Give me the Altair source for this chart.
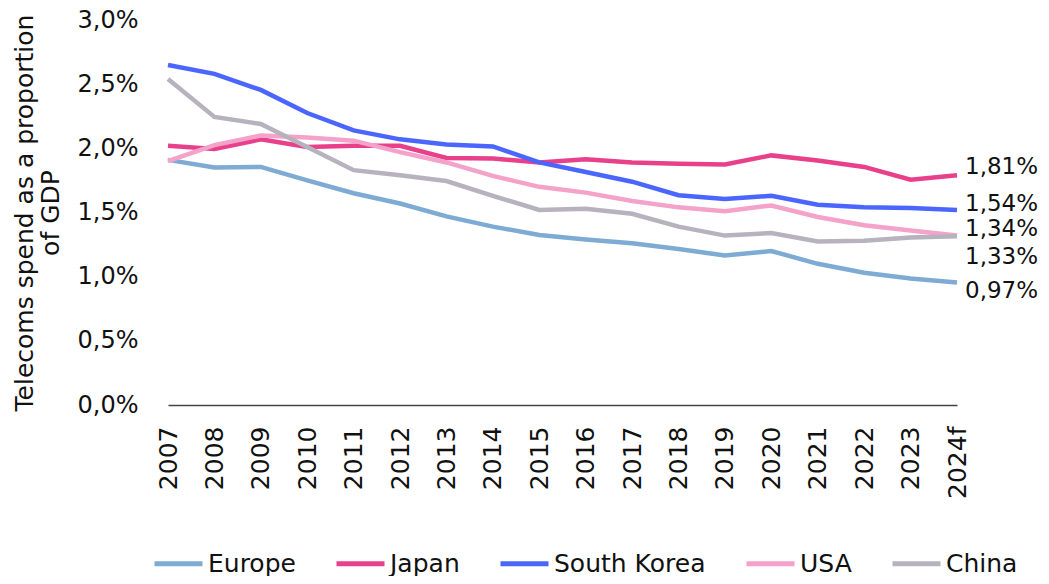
import altair as alt
import pandas as pd

years = ["2007", "2008", "2009", "2010", "2011", "2012", "2013", "2014", "2015",
         "2016", "2017", "2018", "2019", "2020", "2021", "2022", "2023", "2024f"]

europe = [1.91, 1.85, 1.855, 1.75, 1.65, 1.57, 1.47, 1.39, 1.325, 1.29, 1.26, 1.215,
          1.165, 1.20, 1.10, 1.03, 0.985, 0.955]
japan = [2.02, 1.995, 2.07, 2.01, 2.02, 2.02, 1.925, 1.92, 1.89, 1.915, 1.89, 1.88,
         1.875, 1.945, 1.905, 1.855, 1.755, 1.79]
south_korea = [2.65, 2.58, 2.455, 2.275, 2.14, 2.07, 2.03, 2.015, 1.89, 1.815, 1.74, 1.635,
               1.605, 1.63, 1.56, 1.54, 1.535, 1.52]
usa = [1.90, 2.025, 2.10, 2.085, 2.06, 1.97, 1.89, 1.785, 1.70, 1.655, 1.59, 1.54,
       1.51, 1.555, 1.465, 1.40, 1.36, 1.32]
china = [2.54, 2.245, 2.19, 2.01, 1.83, 1.79, 1.745, 1.63, 1.52, 1.53, 1.49, 1.39,
         1.32, 1.34, 1.275, 1.28, 1.305, 1.315]

series_names = ["Europe", "Japan", "South Korea", "USA", "China"]
series_values = [europe, japan, south_korea, usa, china]
colors = ["#7DABD3", "#E8408A", "#4A66FF", "#F4A2C9", "#B6B3BE"]

end_label_series = ["Japan", "South Korea", "USA", "China", "Europe"]
end_label_values = [1.81, 1.54, 1.34, 1.33, 0.97]
end_label_texts = ["1,81%", "1,54%", "1,34%", "1,33%", "0,97%"]
end_label_dy = [-6, -3, -4, 23, 10]

rows = []
for name, vals in zip(series_names, series_values):
    for y, v in zip(years, vals):
        rows.append({"year": y, "series": name, "value": v / 100})
df = pd.DataFrame(rows)

FONT = "DejaVu Sans"
TXT = "#111111"

x_enc = alt.X("year:N", sort=years, scale=alt.Scale(type="point", padding=0),
              axis=alt.Axis(title=None, labelAngle=-90, labelFontSize=25, labelPadding=21,
                            ticks=False, domainColor="#444444", domainWidth=1.3,
                            labelColor=TXT, labelFont=FONT))

lines = alt.Chart(df).mark_line(strokeWidth=4.5).encode(
    x=x_enc,
    y=alt.Y("value:Q", scale=alt.Scale(domain=[0, 0.03], nice=False),
            axis=alt.Axis(title=["Telecoms spend as a proportion", "of GDP"],
                          values=[0, 0.005, 0.01, 0.015, 0.02, 0.025, 0.03],
                          labelExpr="replace(format(datum.value, '.1%'), '.', ',')",
                          labelFontSize=24, labelPadding=30, ticks=False, domain=False,
                          grid=False, titleFontSize=25, titleLineHeight=26,
                          titleFontWeight="normal",
                          titlePadding=14, labelColor=TXT, titleColor=TXT,
                          labelFont=FONT, titleFont=FONT)),
    color=alt.Color("series:N",
                    scale=alt.Scale(domain=series_names, range=colors),
                    legend=alt.Legend(title=None, orient="none", direction="horizontal",
                                      legendX=-2, legendY=531,
                                      symbolType="M-4,0L4,0", symbolSize=144,
                                      symbolStrokeWidth=5, labelFontSize=25,
                                      labelFont=FONT, labelColor=TXT,
                                      columnPadding=30, labelOffset=17)),
    order=alt.Order("series_order:Q"),
).transform_calculate(
    series_order="indexof(['Europe','Japan','South Korea','USA','China'], datum.series)"
)

layers = [lines]
for s, v, t, dy in zip(end_label_series, end_label_values, end_label_texts, end_label_dy):
    ldf = pd.DataFrame({"year": [years[-1]], "value": [v / 100], "text": [t]})
    layers.append(
        alt.Chart(ldf).mark_text(align="left", baseline="middle", dx=8, dy=dy,
                                 fontSize=23, font=FONT, color=TXT).encode(
            x=alt.X("year:N", sort=years, scale=alt.Scale(type="point", padding=0)),
            y=alt.Y("value:Q"),
            text="text:N",
        )
    )

chart = alt.layer(*layers).properties(
    width=789, height=385,
    autosize=alt.AutoSizeParams(type="none"),
    padding={"left": 160, "top": 12, "right": 84, "bottom": 171},
).configure(font=FONT).configure_view(strokeWidth=0)

chart.save("out.html", embed_options={"renderer": "svg", "actions": False})
